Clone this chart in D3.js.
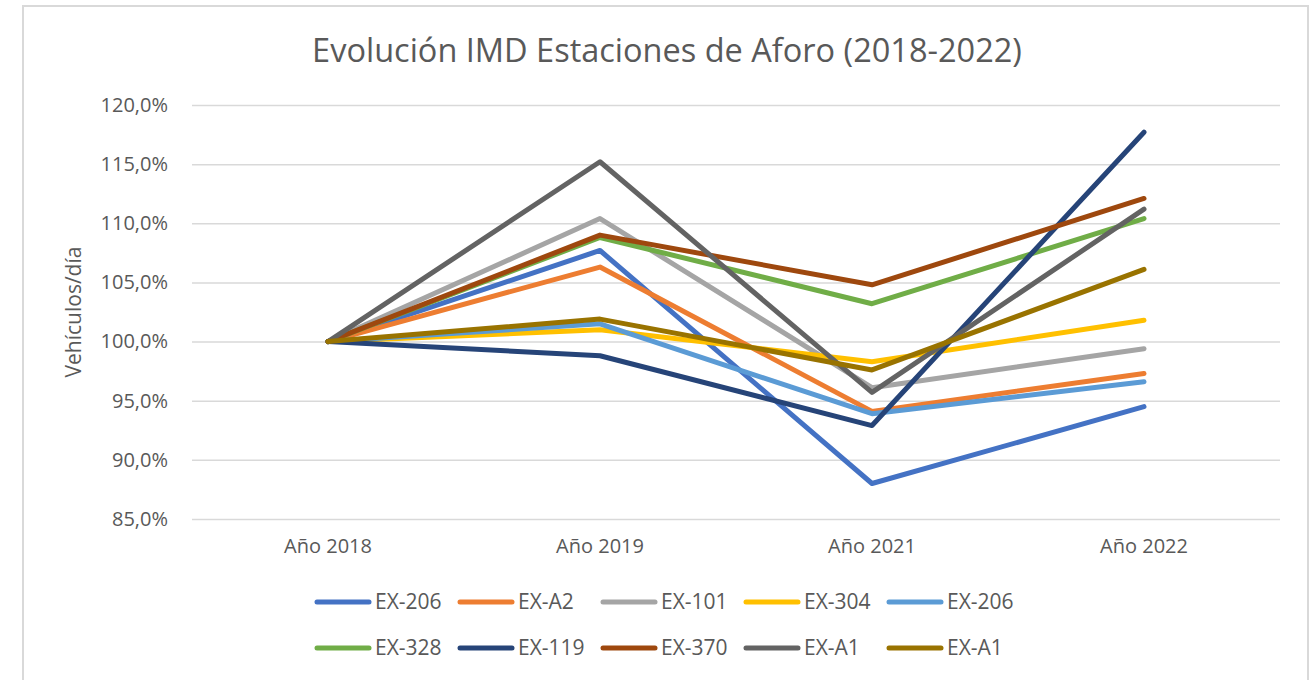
<!DOCTYPE html>
<html>
<head>
<meta charset="utf-8">
<script src="https://cdn.jsdelivr.net/npm/d3@7"></script>
<style>
  body { margin: 0; background: #fff; }
  text { font-family: "Open Sans", sans-serif; fill: #595959; }
</style>
</head>
<body>
<svg id="chart" width="1310" height="680"></svg>
<script>
// Categories and series (percent of 2018)
const years = ["Año 2018", "Año 2019", "Año 2021", "Año 2022"];
const seriesNames = ["EX-206", "EX-A2", "EX-101", "EX-304", "EX-206", "EX-328", "EX-119", "EX-370", "EX-A1", "EX-A1"];
const seriesColors = ["#4472C4", "#ED7D31", "#A5A5A5", "#FFC000", "#5B9BD5", "#70AD47", "#264478", "#9E480E", "#636363", "#997300"];
const ex206 = [100, 107.7, 88.0, 94.5];
const exA2 = [100, 106.3, 94.1, 97.3];
const ex101 = [100, 110.4, 96.1, 99.4];
const ex304 = [100, 101.0, 98.3, 101.8];
const ex206b = [100, 101.5, 93.9, 96.6];
const ex328 = [100, 108.8, 103.2, 110.4];
const ex119 = [100, 98.8, 92.9, 117.7];
const ex370 = [100, 109.0, 104.8, 112.1];
const exA1 = [100, 115.2, 95.7, 111.2];
const exA1b = [100, 101.9, 97.6, 106.1];
const seriesValues = [ex206, exA2, ex101, ex304, ex206b, ex328, ex119, ex370, exA1, exA1b];
const yTicks = [85, 90, 95, 100, 105, 110, 115, 120];

const svg = d3.select("#chart");
const margin = { left: 192, right: 1280, top: 105, bottom: 519 };

// Chart frame
svg.append("rect")
    .attr("x", 23).attr("y", 6)
    .attr("width", 1285).attr("height", 700)
    .attr("fill", "#fff")
    .attr("stroke", "#d9d9d9")
    .attr("stroke-width", 2);

// Title
svg.append("text")
    .attr("x", 667).attr("y", 62)
    .attr("text-anchor", "middle")
    .style("font-size", "32.5px")
    .text("Evolución IMD Estaciones de Aforo (2018-2022)");

const x = d3.scaleBand().domain(years).range([margin.left, margin.right]);
const y = d3.scaleLinear().domain([85, 120]).range([margin.bottom, margin.top]);

const locale = d3.formatLocale({ decimal: ",", thousands: ".", grouping: [3], currency: ["", "€"] });
const pct = locale.format(".1%");

// Gridlines + y labels
const yAxis = d3.axisLeft(y)
    .tickValues(yTicks)
    .tickSize(-(margin.right - margin.left))
    .tickPadding(24)
    .tickFormat(d => pct(d / 100));

svg.append("g")
    .attr("transform", `translate(${margin.left},0)`)
    .call(yAxis)
    .call(g => g.select(".domain").remove())
    .call(g => g.selectAll(".tick line").attr("stroke", "#d9d9d9").attr("stroke-width", 1.5))
    .call(g => g.selectAll(".tick text").style("font-size", "20px").attr("fill", "#595959"));

// X labels
const xAxis = d3.axisBottom(x).tickSize(0).tickPadding(20);
svg.append("g")
    .attr("transform", `translate(0,${margin.bottom})`)
    .call(xAxis)
    .call(g => g.select(".domain").remove())
    .call(g => g.selectAll(".tick text").style("font-size", "20px").attr("fill", "#595959"));

// Y axis title
svg.append("text")
    .attr("transform", "translate(81,312) rotate(-90)")
    .attr("text-anchor", "middle")
    .style("font-size", "21px")
    .text("Vehículos/día");

// Lines
const line = d3.line()
    .x((d, i) => x(years[i]) + x.bandwidth() / 2)
    .y(d => y(d));

svg.append("g").selectAll("path")
    .data(seriesValues)
    .enter()
    .append("path")
    .attr("d", d => line(d))
    .attr("fill", "none")
    .attr("stroke", (d, i) => seriesColors[i])
    .attr("stroke-width", 5)
    .attr("stroke-linejoin", "round")
    .attr("stroke-linecap", "round");

// Legend
const legend = svg.append("g").selectAll("g")
    .data(seriesNames)
    .enter()
    .append("g")
    .attr("transform", (d, i) => `translate(${317 + (i % 5) * 143},${i < 5 ? 602 : 648})`);

legend.append("line")
    .attr("x1", 0).attr("x2", 52)
    .attr("stroke", (d, i) => seriesColors[i])
    .attr("stroke-width", 5)
    .attr("stroke-linecap", "round");

legend.append("text")
    .attr("x", 58)
    .attr("dy", "0.35em")
    .style("font-size", "21px")
    .text(d => d);
</script>
</body>
</html>
